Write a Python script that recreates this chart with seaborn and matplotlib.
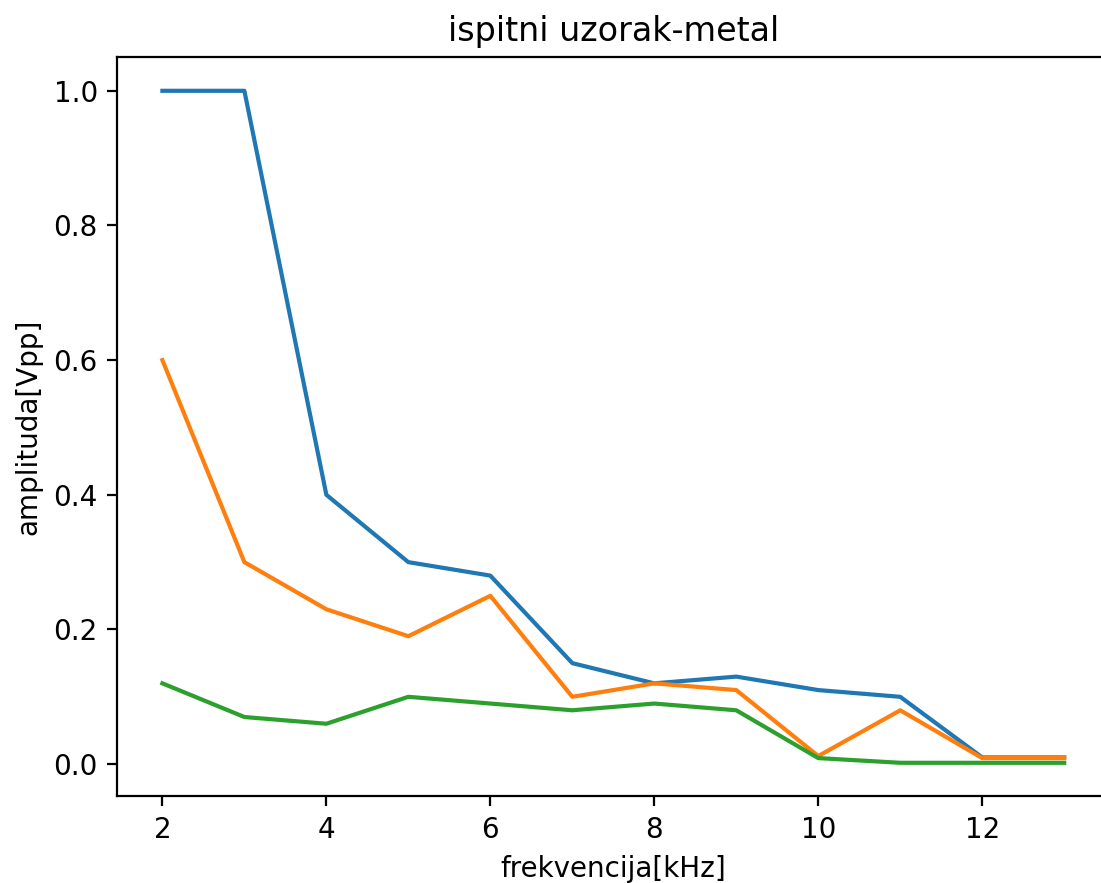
import matplotlib
matplotlib.use("Agg")
import matplotlib.pyplot as plt
import seaborn as sns
import pandas as pd

freq = [2, 3, 4, 5, 6, 7, 8, 9, 10, 11, 12, 13]
series1 = [1.0, 1.0, 0.40, 0.30, 0.28, 0.15, 0.12, 0.13, 0.11, 0.10, 0.010, 0.010]
series2 = [0.60, 0.30, 0.23, 0.19, 0.25, 0.10, 0.12, 0.11, 0.012, 0.08, 0.009, 0.009]
series3 = [0.12, 0.07, 0.06, 0.10, 0.09, 0.08, 0.09, 0.08, 0.009, 0.002, 0.002, 0.002]
names = ["s1", "s2", "s3"]

rows = []
for name, vals in zip(names, [series1, series2, series3]):
    for f, v in zip(freq, vals):
        rows.append({"f": f, "a": v, "s": name})
df = pd.DataFrame(rows)

dpi = 200
fig = plt.figure(figsize=(1101 / dpi, 883 / dpi), dpi=dpi)
ax = fig.add_axes([117.3 / 1101, (883 - 796.4) / 883, 992 / 1101, 739.2 / 883])

sns.lineplot(data=df, x="f", y="a", hue="s", palette=["#1f77b4", "#ff7f0e", "#2ca02c"],
             legend=False, ax=ax, linewidth=1.5)

ax.set_title("ispitni uzorak-metal")
ax.set_xlabel("frekvencija[kHz]")
ax.set_ylabel("amplituda[Vpp]")

fig.savefig("out.png", dpi=dpi)
